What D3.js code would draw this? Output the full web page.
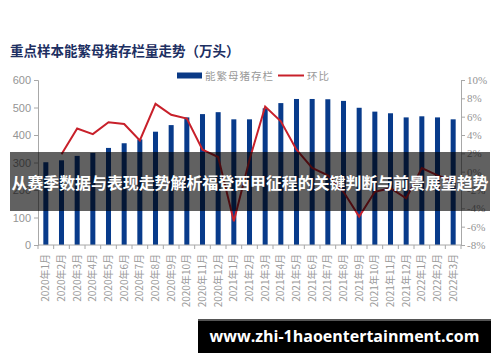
<!DOCTYPE html>
<html>
<head>
<meta charset="utf-8">
<script src="https://cdn.jsdelivr.net/npm/d3@7"></script>
<style>
  body { margin: 0; background: #fff; }
  svg { display: block; }
</style>
</head>
<body>
<div id="chart"></div>
<script>
const months = [
  "2020年1月","2020年2月","2020年3月","2020年4月","2020年5月","2020年6月",
  "2020年7月","2020年8月","2020年9月","2020年10月","2020年11月","2020年12月",
  "2021年1月","2021年2月","2021年3月","2021年4月","2021年5月","2021年6月",
  "2021年7月","2021年8月","2021年9月","2021年10月","2021年11月","2021年12月",
  "2022年1月","2022年2月","2022年3月"
];
const stock = [301,308,324,335,353,370,384,412,436,464,476,483,457,457,497,516,531,531,530,524,499,485,479,464,468,464,457];
// first month has no ring-ratio value
const mom = [null,1.9,4.7,4.1,5.4,5.2,3.4,7.4,6.2,5.8,2.4,1.6,-5.4,1.3,7.1,5.5,2.4,0.4,-0.4,-2.2,-4.9,-2.2,-1.8,-2.9,0.4,-0.4,-1.0];
const leftTicks = [0,100,200,300,400,500,600];
const rightTicks = [-8,-6,-4,-2,0,2,4,6,8,10];

const W = 500, H = 362;
const svg = d3.select("#chart").append("svg").attr("width", W).attr("height", H);

const x = d3.scaleBand().domain(months).range([38, 461]).paddingInner(0.68).paddingOuter(0.34);
const slot = d3.scaleBand().domain(months).range([38, 461]);
const y = d3.scaleLinear().domain([0, 600]).range([245, 80]);
const y2 = d3.scaleLinear().domain([-8, 10]).range([245, 80]);

const gray = "#a8a8a8", labelColor = "#949494";

// title
svg.append("text").attr("x", 10).attr("y", 56)
  .attr("font-family", "Noto Sans CJK SC").attr("font-weight", 700)
  .attr("font-size", 13.5).attr("fill", "#1d2f62")
  .text("重点样本能繁母猪存栏量走势（万头）");

// legend
svg.append("rect").attr("x", 177).attr("y", 72.5).attr("width", 25).attr("height", 6).attr("fill", "#0a3a86");
svg.append("text").attr("x", 205).attr("y", 79.5).attr("font-family", "Noto Sans CJK SC")
  .attr("font-size", 10.5).attr("fill", "#999").attr("letter-spacing", 1).text("能繁母猪存栏");
svg.append("line").attr("x1", 278).attr("x2", 304).attr("y1", 75.5).attr("y2", 75.5)
  .attr("stroke", "#c8202a").attr("stroke-width", 2);
svg.append("text").attr("x", 307).attr("y", 79.5).attr("font-family", "Noto Sans CJK SC")
  .attr("font-size", 10.5).attr("fill", "#999").attr("letter-spacing", 1).text("环比");

// bars
svg.append("g").selectAll("rect").data(months).join("rect")
  .attr("x", d => x(d)).attr("width", x.bandwidth())
  .attr("y", (d, i) => y(stock[i])).attr("height", (d, i) => y(0) - y(stock[i]))
  .attr("fill", "#083b8b");

// left axis
const axL = svg.append("g").attr("transform", "translate(38,0)")
  .call(d3.axisLeft(y).tickValues(leftTicks).tickSize(4).tickPadding(3));
axL.select(".domain").attr("stroke", gray);
axL.selectAll(".tick line").attr("stroke", gray);
axL.selectAll("text").attr("fill", labelColor).attr("font-size", 11).attr("font-family", "Liberation Sans");

// right axis
const axR = svg.append("g").attr("transform", "translate(461,0)")
  .call(d3.axisRight(y2).tickValues(rightTicks).tickSize(4).tickPadding(2).tickFormat(d => d + "%"));
axR.select(".domain").attr("stroke", gray);
axR.selectAll(".tick line").attr("stroke", gray);
axR.selectAll("text").attr("fill", labelColor).attr("font-size", 11).attr("font-family", "Liberation Serif");

// bottom axis
const axB = svg.append("g").attr("transform", "translate(0,245)");
axB.append("line").attr("x1", 38).attr("x2", 461).attr("stroke", gray);
axB.selectAll("line.tk").data(months.concat([null])).join("line").attr("class", "tk")
  .attr("x1", (d, i) => 38 + i * slot.step()).attr("x2", (d, i) => 38 + i * slot.step())
  .attr("y1", 0).attr("y2", 4).attr("stroke", gray);
axB.selectAll("text").data(months).join("text")
  .attr("transform", d => `translate(${x(d) + x.bandwidth() / 2 + 3.5},9) rotate(-90)`)
  .attr("text-anchor", "end").attr("font-family", "Noto Sans CJK SC")
  .attr("font-size", 10).attr("fill", "#9a9a9a").text(d => d);

// ring ratio line
const line = d3.line()
  .defined(d => d[1] != null)
  .x(d => x(d[0]) + x.bandwidth() / 2)
  .y(d => y2(d[1]));
svg.append("path").datum(months.map((m, i) => [m, mom[i]]))
  .attr("d", line).attr("fill", "none").attr("stroke", "#c8202a").attr("stroke-width", 2);

// overlay banner
svg.append("rect").attr("x", 10).attr("y", 152).attr("width", 480).attr("height", 59)
  .attr("fill", "#000").attr("opacity", 0.62);
svg.append("text").attr("x", 11.5).attr("y", 189)
  .attr("textLength", 477).attr("lengthAdjust", "spacingAndGlyphs")
  .attr("font-family", "Noto Sans CJK SC").attr("font-weight", 700).attr("font-size", 15.8)
  .attr("fill", "#fff").text("从赛季数据与表现走势解析福登西甲征程的关键判断与前景展望趋势");

// bottom url badge
svg.append("rect").attr("x", 198).attr("y", 319).attr("width", 293).attr("height", 34).attr("fill", "#000");
svg.append("rect").attr("x", 198).attr("y", 319).attr("width", 293).attr("height", 2).attr("fill", "#555");
svg.append("text").attr("x", 344.5).attr("y", 342).attr("text-anchor", "middle")
  .attr("font-family", "Open Sans").attr("font-weight", 700).attr("font-size", 16)
  .attr("fill", "#fff").text("www.zhi-1haoentertainment.com");
</script>
</body>
</html>
